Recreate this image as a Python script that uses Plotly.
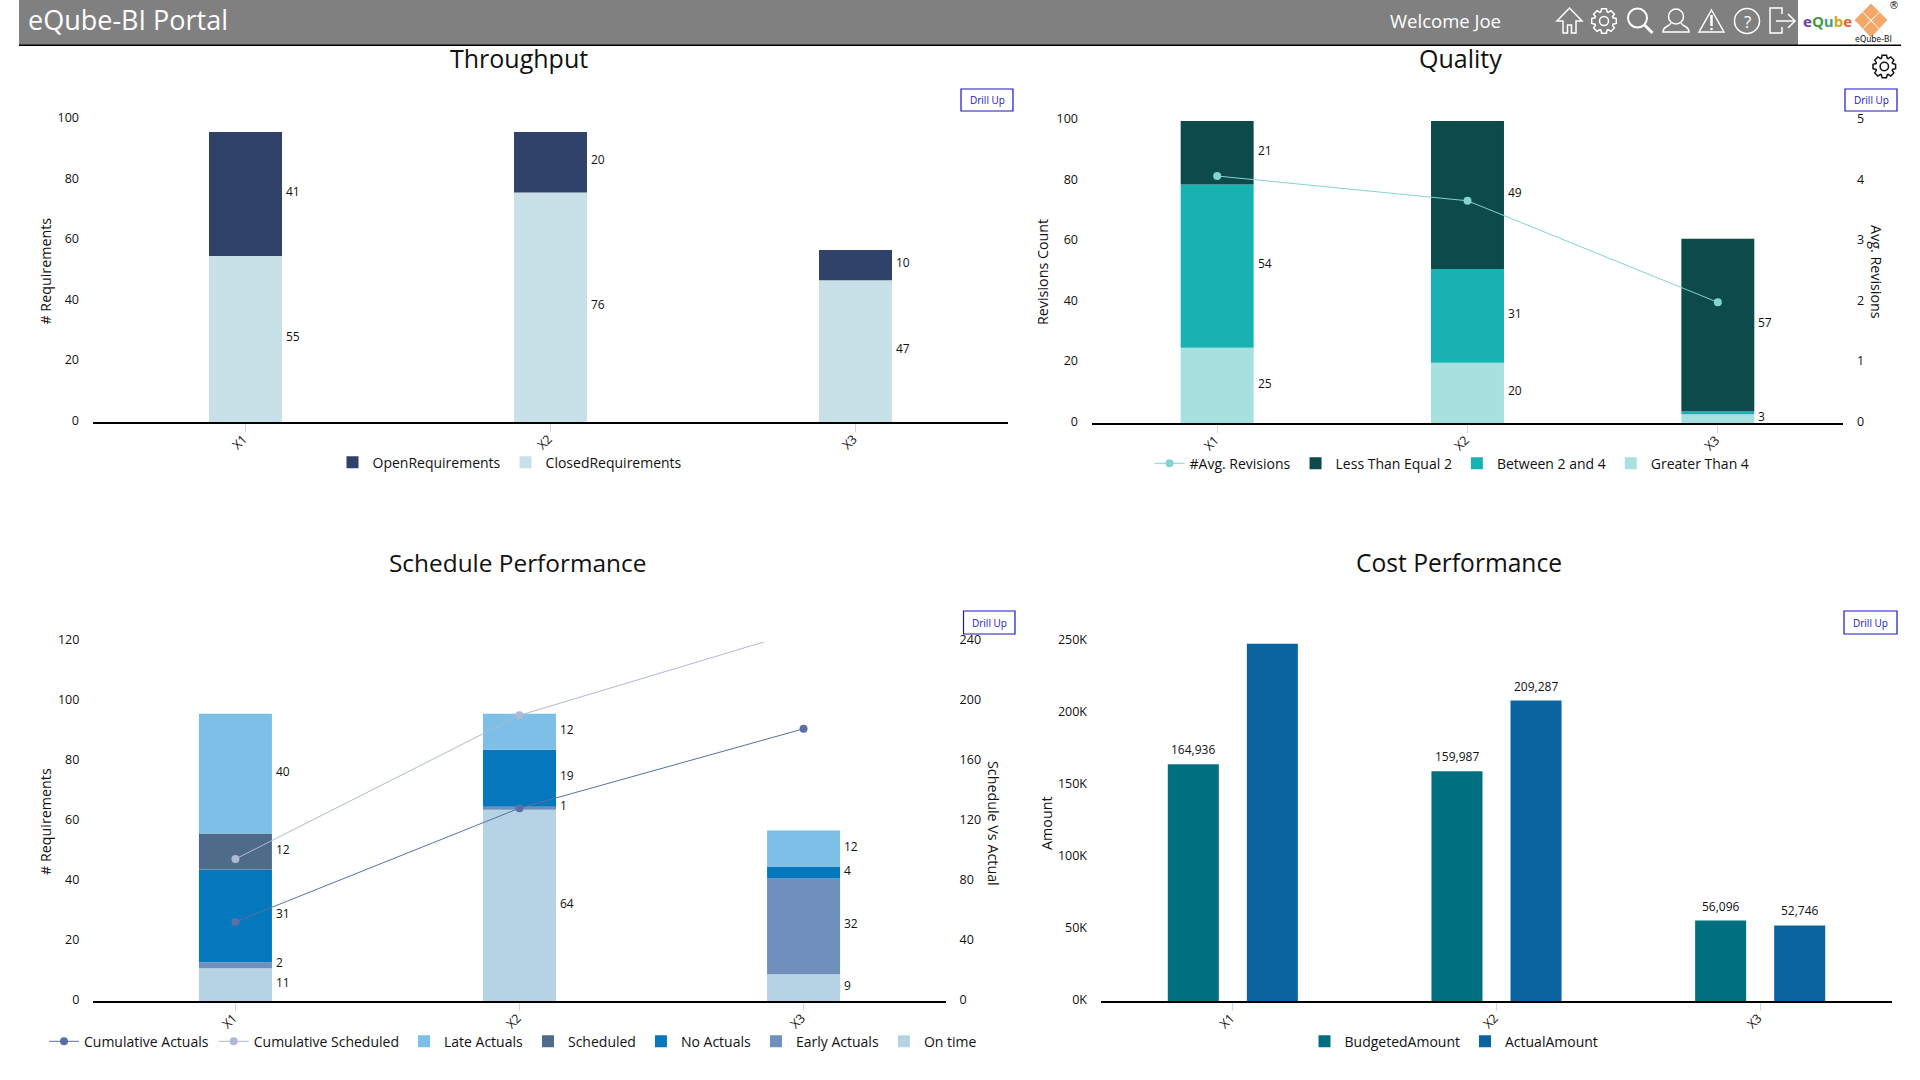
import math, re
import plotly.graph_objects as go

# ---------- data ----------
categories = ["X1", "X2", "X3"]

open_req = [41, 20, 10]
closed_req = [55, 76, 47]

avg_revisions = [4.09, 3.68, 2.0]
less_equal_2 = [21, 49, 57]
between_2_4 = [54, 31, 1]
greater_4 = [25, 20, 3]
quality_label_between = ["54", "31", ""]

cum_actuals = [53, 129, 182]
cum_scheduled = [95, 191, 248]
late_actuals = [40, 12, 12]
scheduled = [12, 0, 0]
no_actuals = [31, 19, 4]
early_actuals = [2, 1, 32]
on_time = [11, 64, 9]

budgeted = [164936, 159987, 56096]
actual = [248800, 209287, 52746]
actual_labels = ["", "209,287", "52,746"]
budgeted_labels = ["164,936", "159,987", "56,096"]

W, H = 1920, 1080
FONT = "Open Sans"
INK = "#111111"


def fx(x):
    return x / W


def fy(y):
    return 1 - y / H


def dom_x(a, b):
    return [fx(a), fx(b)]


def dom_y(top, bottom):
    return [fy(bottom), fy(top)]


fig = go.Figure()
ann, shp = [], []


def seg_labels(xaxis, yaxis, series, texts=None):
    """value labels to the right of each stacked segment"""
    base = [0, 0, 0]
    for si, vals in enumerate(series):
        for i, v in enumerate(vals):
            txt = str(v) if texts is None or texts[si] is None else texts[si][i]
            if v and txt:
                ann.append(dict(x=categories[i], y=base[i] + v / 2, xref=xaxis, yref=yaxis,
                                text=txt, showarrow=False, xanchor="left", yanchor="middle",
                                xshift=38.5, yshift=2.4, font=dict(size=12, color=INK, family=FONT)))
            base[i] += v


def stack_series(names, series, colors, ranks, xa, ya, leg, width):
    base = [0, 0, 0]
    for name, vals, color, rank in zip(names, series, colors, ranks):
        fig.add_trace(go.Bar(name=name, x=categories, y=vals, base=list(base),
                             marker=dict(color=color, opacity=1, line=dict(width=0)),
                             xaxis=xa, yaxis=ya, legend=leg, legendrank=rank, width=width))
        base = [b + v for b, v in zip(base, vals)]


def line(name, vals, color, xa, ya, leg, rank):
    fig.add_trace(go.Scatter(name=name, x=categories, y=vals, mode="lines+markers",
                             line=dict(color=color, width=1), marker=dict(color=color, size=8),
                             xaxis=xa, yaxis=ya, legend=leg, legendrank=rank))


# ---------- Throughput ----------
stack_series(["ClosedRequirements", "OpenRequirements"], [closed_req, open_req], ["#c8e0e8", "#304269"], [2, 1],
             "x", "y", "legend", 73 / 305)
seg_labels("x", "y", [closed_req, open_req])

# ---------- Quality ----------
stack_series(["Greater Than 4", "Between 2 and 4", "Less Than Equal 2"], [greater_4, between_2_4, less_equal_2],
             ["#a6e1df", "#19b2b2", "#0d4a4a"], [4, 3, 2], "x2", "y2", "legend2", 73 / 250.5)
line("#Avg. Revisions", avg_revisions, "#83d3d0", "x2", "y3", "legend2", 1)
seg_labels("x2", "y2", [greater_4, between_2_4, less_equal_2], [None, quality_label_between, None])

# ---------- Schedule ----------
stack_series(["On time", "Early Actuals", "No Actuals", "Scheduled", "Late Actuals"],
             [on_time, early_actuals, no_actuals, scheduled, late_actuals],
             ["#b6d2e5", "#6f90bd", "#0577bc", "#4f6b8a", "#7dbfe6"], [7, 6, 5, 4, 3], "x3", "y4", "legend3", 73 / 284)
line("Cumulative Actuals", cum_actuals, "#5b6fa3", "x3", "y5", "legend3", 1)
line("Cumulative Scheduled", cum_scheduled, "#b0b8d4", "x3", "y5", "legend3", 2)
seg_labels("x3", "y4", [on_time, early_actuals, no_actuals, scheduled, late_actuals])

# ---------- Cost ----------
w4 = 51 / 263.5
off = 39.5 / 263.5
fig.add_trace(go.Bar(name="BudgetedAmount", x=categories, y=budgeted, marker=dict(color="#006f80", opacity=1, line=dict(width=0)),
                     xaxis="x4", yaxis="y6", legend="legend4", legendrank=1, width=w4, offset=-off - w4 / 2))
fig.add_trace(go.Bar(name="ActualAmount", x=categories, y=actual, marker=dict(color="#0a64a0", opacity=1, line=dict(width=0)),
                     xaxis="x4", yaxis="y6", legend="legend4", legendrank=2, width=w4, offset=off - w4 / 2))
for vals, labs, sh in ((budgeted, budgeted_labels, -39.5), (actual, actual_labels, 39.5)):
    for i, v in enumerate(vals):
        if labs[i]:
            ann.append(dict(x=categories[i], y=v, xref="x4", yref="y6", text=labs[i], showarrow=False,
                            xanchor="center", yanchor="middle", xshift=sh, yshift=14.5,
                            font=dict(size=12, color=INK, family=FONT)))


# ---------- axes ----------
def xaxis(a, b, anchor):
    return dict(domain=dom_x(a, b), anchor=anchor, type="category", categoryorder="array", categoryarray=categories,
                showline=True, linecolor="#000000", linewidth=1.5, ticks="outside", ticklen=8, tickwidth=1,
                tickcolor="#ccd6eb", tickangle=-45, showgrid=False, zeroline=False, ticklabelstandoff=-5,
                ticklabelshift=-2, tickfont=dict(size=12.5, color=INK, family=FONT), range=[-0.5, 2.5], fixedrange=True)


def yaxis(top, bottom, rng, dtick, side="left", overlay=None, anchor=None, **kw):
    d = dict(domain=dom_y(top, bottom), range=rng, dtick=dtick, side=side, showgrid=False, zeroline=False,
             showline=False, ticks="", ticklabelstandoff=13, ticklabelshift=-2, anchor=anchor,
             tickfont=dict(size=12.5, color=INK, family=FONT), fixedrange=True)
    if overlay:
        d["overlaying"] = overlay
    d.update(kw)
    return d


layout = dict(
    width=W, height=H, margin=dict(l=0, r=0, t=0, b=0, autoexpand=False), paper_bgcolor="white",
    plot_bgcolor="rgba(0,0,0,0)", barmode="overlay", font=dict(family=FONT, color=INK), autosize=False,
    xaxis=xaxis(93, 1008, "y"),
    yaxis=yaxis(120, 422.2, [0, 100], 20, anchor="x"),
    xaxis2=xaxis(1092, 1843, "y2"),
    yaxis2=yaxis(121, 423.2, [0, 100], 20, anchor="x2"),
    yaxis3=yaxis(121, 423.2, [0, 5], 1, side="right", overlay="y2", anchor="x2"),
    xaxis3=xaxis(93.4, 945.6, "y4"),
    yaxis4=yaxis(642, 1001.2, [0, 120], 20, anchor="x3"),
    yaxis5=yaxis(642, 1001.2, [0, 240], 40, side="right", overlay="y4", anchor="x3"),
    xaxis4=xaxis(1101, 1892, "y6"),
    yaxis6=yaxis(642, 1001.2, [0, 250000], 50000, anchor="x4",
                 tickvals=[0, 50000, 100000, 150000, 200000, 250000],
                 ticktext=["0K", "50K", "100K", "150K", "200K", "250K"]),
)


def legend(x, y):
    return dict(orientation="h", x=fx(x), y=fy(y), xanchor="left", yanchor="middle", bgcolor="rgba(0,0,0,0)",
                traceorder="normal", font=dict(size=14, color=INK, family=FONT), itemwidth=30,
                itemclick=False, itemdoubleclick=False)


layout["legend"] = legend(332.5, 462.7)
layout["legend2"] = legend(1149.5, 463.7)
layout["legend3"] = legend(44, 1041.7)
layout["legend4"] = legend(1304.5, 1041.7)


# ---------- text ----------
def text(x, y, s, size, color=INK, anchor="center", angle=0, **kw):
    ann.append(dict(x=fx(x), y=fy(y), xref="paper", yref="paper", text=s, showarrow=False, xanchor=anchor,
                    yanchor="middle", textangle=angle, font=dict(size=size, color=color, family=kw.get("family", FONT))))


text(519, 58, "Throughput", 25)
text(1460, 58, "Quality", 25)
text(517.5, 562.5, "Schedule Performance", 24.4)
text(1459, 562.5, "Cost Performance", 24.6)

text(46, 271.6, "# Requirements", 14.3, angle=-90)
text(1043, 272, "Revisions Count", 14.3, angle=-90)
text(1876, 272, "Avg. Revisions", 14.3, angle=90)
text(45, 822, "# Requirements", 14.3, angle=-90)
text(994, 823, "Schedule Vs Actual", 14.3, angle=90)
text(1046, 823, "Amount", 14.3, angle=-90)


# ---------- header, buttons, icons ----------
def rect(x0, y0, x1, y1, fill=None, color=None, width=0, layer="above"):
    shp.append(dict(type="rect", xref="paper", yref="paper", x0=fx(x0), x1=fx(x1), y0=fy(y0), y1=fy(y1),
                    fillcolor=fill or "rgba(0,0,0,0)", line=dict(color=color or "rgba(0,0,0,0)", width=width), layer=layer))


def circle(cx, cy, r, fill=None, color=None, width=1.5):
    shp.append(dict(type="circle", xref="paper", yref="paper", x0=fx(cx - r), x1=fx(cx + r), y0=fy(cy + r), y1=fy(cy - r),
                    fillcolor=fill or "rgba(0,0,0,0)", line=dict(color=color or "rgba(0,0,0,0)", width=width)))


def path(d, color="white", width=1.5, fill=None):
    conv = re.sub(r"(-?[\d.]+),(-?[\d.]+)", lambda m: f"{fx(float(m.group(1))):.5f},{fy(float(m.group(2))):.5f}", d)
    shp.append(dict(type="path", xref="paper", yref="paper", path=conv, line=dict(color=color, width=width),
                    fillcolor=fill or "rgba(0,0,0,0)"))


def gear(cx, cy, r_out, r_in, r_hole, color, width=1.5):
    pts = []
    teeth = 8
    for t in range(teeth):
        a = 2 * math.pi * t / teeth - math.pi / 2
        s = 2 * math.pi / teeth
        for da, r in ((-0.32, r_in), (-0.18, r_out), (0.18, r_out), (0.32, r_in)):
            ang = a + da * s * 1.35
            pts.append((cx + r * math.cos(ang), cy + r * math.sin(ang)))
    d = "M" + " L".join(f"{x:.2f},{y:.2f}" for x, y in pts) + " Z"
    path(d, color, width)
    circle(cx, cy, r_hole, color=color, width=width)


rect(19, 0, 1901, 45, fill="#808080")
rect(1798, 0, 1901, 45, fill="#ffffff")
rect(19, 44.6, 1901, 46, fill="#000000")
text(26, 19.5, "eQube-BI Portal", 27, "white", "left")
text(1445, 20.5, "Welcome Joe", 18.5, "white")

path("M1557,21 L1569.5,8 L1582,21 L1576,21 L1576,33 L1571.5,33 L1571.5,25 L1567.5,25 L1567.5,33 L1563,33 L1563,21 Z")
gear(1604, 21, 12.5, 9.5, 4.5, "white")
circle(1637.5, 18, 9.5, color="white", width=2)
path("M1644.5,25 L1652.5,33", width=3)
circle(1676, 16.5, 7.5, color="white")
path("M1671,23 C1669,27 1663,26 1663,32 L1689,32 C1689,26 1683,27 1681,23")
path("M1711.5,10 L1724,32 L1699,32 Z")
path("M1711.5,15 L1711.5,26", width=2.5)
circle(1711.5, 29, 0.6, fill="white", color="white")
circle(1747, 21, 12.5, color="white")
text(1747, 21, "?", 17, "white")
path("M1782,14 L1782,8 L1770,8 L1770,33 L1782,33 L1782,27")
path("M1776,21 L1794,21 M1788,14 L1795,21 L1788,28")

ann.append(dict(x=fx(1827), y=fy(21), xref="paper", yref="paper", showarrow=False, xanchor="center", yanchor="middle",
                text='<b><span style="color:#6a3fa0">e</span><span style="color:#3e9e3e">Q</span>'
                     '<span style="color:#3f9f7f">u</span><span style="color:#d9a520">b</span>'
                     '<span style="color:#e0602a">e</span></b>',
                font=dict(size=15, family=FONT)))
path("M1871,4 L1887,20 L1871,37 L1855,20 Z", color="#f0b080", width=1, fill="#f2a868")
for k in (-5, 0, 5):
    path(f"M{1863 + k},{12 + k} L{1879 + k},{29 + k}", color="#fbe3cf", width=1)
    path(f"M{1879 + k},{12 - k} L{1863 + k},{29 - k}", color="#fbe3cf", width=1)
text(1873, 39.5, "eQube-BI", 8, "#111111", family="DejaVu Sans")
text(1894, 6, "®", 10, "#111111", family="DejaVu Sans")

gear(1884.3, 66.5, 11.5, 8.8, 4.2, "#111111", 1.5)

for x0, y0, x1, y1 in ((961, 89, 1013, 111), (1845, 89, 1897, 111), (963.5, 611, 1015, 634), (1844, 611, 1897, 634)):
    rect(x0, y0, x1, y1, fill="white", color="#1a14c8", width=1.2)
    text((x0 + x1) / 2, (y0 + y1) / 2, "Drill Up", 10, "#1a14c8")

layout["annotations"] = ann
layout["shapes"] = shp
fig.update_layout(**layout)
fig.write_html("out.html", config={"displayModeBar": False},
               post_script="document.body.style.margin='0';document.body.style.overflow='hidden';")
